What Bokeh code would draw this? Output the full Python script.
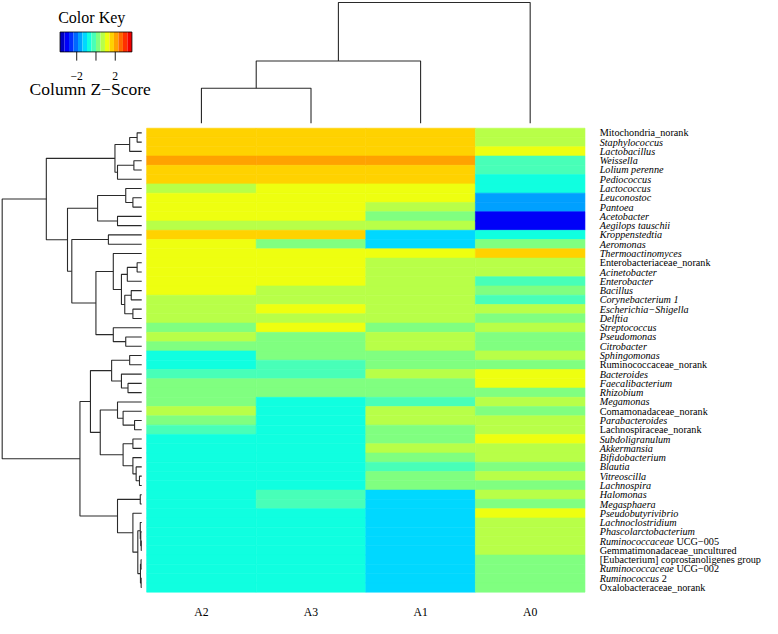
import numpy as np
from bokeh.plotting import figure
from bokeh.models import Range1d, ColumnDataSource, LinearColorMapper
from bokeh.transform import transform
from bokeh.core.properties import value
from bokeh.embed import file_html
from bokeh.resources import INLINE

# ---------------- data ----------------
samples = ["A2", "A3", "A1", "A0"]

row_labels = [
    "Mitochondria_norank", "Staphylococcus", "Lactobacillus", "Weissella", "Lolium perenne",
    "Pediococcus", "Lactococcus", "Leuconostoc", "Pantoea", "Acetobacter",
    "Aegilops tauschii", "Kroppenstedtia", "Aeromonas", "Thermoactinomyces", "Enterobacteriaceae_norank",
    "Acinetobacter", "Enterobacter", "Bacillus", "Corynebacterium 1", "Escherichia\u2212Shigella",
    "Delftia", "Streptococcus", "Pseudomonas", "Citrobacter", "Sphingomonas",
    "Ruminococcaceae_norank", "Bacteroides", "Faecalibacterium", "Rhizobium", "Megamonas",
    "Comamonadaceae_norank", "Parabacteroides", "Lachnospiraceae_norank", "Subdoligranulum", "Akkermansia",
    "Bifidobacterium", "Blautia", "Vitreoscilla", "Lachnospira", "Halomonas",
    "Megasphaera", "Pseudobutyrivibrio", "Lachnoclostridium", "Phascolarctobacterium", "Ruminococcaceae UCG\u2212005",
    "Gemmatimonadaceae_uncultured", "[Eubacterium] coprostanoligenes group", "Ruminococcaceae UCG\u2212002", "Ruminococcus 2", "Oxalobacteraceae_norank",
]
# r = roman, i = italic, m = italic genus + roman suffix
label_style = [
    "r", "i", "i", "i", "i", "i", "i", "i", "i", "i",
    "i", "i", "i", "i", "r", "i", "i", "i", "i", "i",
    "i", "i", "i", "i", "i", "r", "i", "i", "i", "i",
    "r", "i", "r", "i", "i", "i", "i", "i", "i", "i",
    "i", "i", "i", "i", "m", "r", "r", "m", "m", "r",
]

# column z-scores (rows in the order above)
z_A2 = [1.63, 1.63, 1.63, 2.10, 1.63, 1.63, 0.70, 1.17, 1.17, 1.17,
        0.70, 1.63, 1.17, 1.17, 1.17, 1.17, 1.17, 1.17, 0.70, 0.70,
        0.70, 0.23, 0.70, 0.23, -0.70, -0.70, -0.23, 0.23, 0.23, 0.23,
        0.70, 0.23, -0.23, -0.70, -0.70, -0.70, -0.70, -0.70, -0.70, -0.70,
        -0.70, -0.70, -0.70, -0.70, -0.70, -0.70, -0.70, -0.70, -0.70, -0.70]
z_A3 = [1.63, 1.63, 1.63, 2.10, 1.63, 1.63, 1.17, 1.17, 1.17, 1.17,
        0.70, 1.63, 0.23, 1.17, 1.17, 1.17, 1.17, 0.70, 0.70, 1.17,
        0.70, 1.17, 0.23, 0.23, 0.23, -0.23, -0.23, 0.23, 0.23, -0.70,
        -0.70, -0.70, -0.70, -0.70, -0.70, -0.70, -0.70, -0.70, -0.70, -0.23,
        -0.23, -0.70, -0.70, -0.70, -0.70, -0.70, -0.70, -0.70, -0.70, -0.70]
z_A1 = [1.63, 1.63, 1.63, 2.10, 1.63, 1.63, 1.17, 1.17, 0.70, 0.23,
        0.70, -1.16, -1.16, 1.17, 0.70, 0.70, 0.70, 0.70, 0.70, 0.70,
        0.70, 0.23, 0.70, 0.70, 0.23, 0.23, 0.70, 0.23, 0.23, -0.23,
        0.70, 0.70, 0.23, 0.23, 0.70, 0.23, -0.23, 0.23, 0.23, -1.16,
        -1.16, -1.16, -1.16, -1.16, -1.16, -1.16, -1.16, -1.16, -1.16, -1.16]
z_A0 = [0.70, 0.70, 1.17, -0.23, -0.23, -0.70, -0.70, -1.63, -1.63, -3.03,
        -3.03, -0.70, 0.23, 1.63, 0.70, 0.70, -0.23, 0.23, -0.23, 0.70,
        0.23, 0.70, 0.23, 0.23, 0.70, 0.23, 1.17, 1.17, 0.23, 0.70,
        0.23, 0.70, 0.70, 1.17, 0.70, 0.70, 0.23, 0.70, 0.23, 0.70,
        0.23, 1.17, 0.70, 0.70, 0.70, 0.70, 0.23, 0.23, 0.23, 0.23]

# column dendrogram: (child, child, height); leaves 0..3, merges 4..
col_merges = [(0, 1, 36.0), (4, 2, 64.0), (5, 3, 124.0)]

# row dendrogram: leaves 0..49, merges 50..
row_merges = [
    (0, 1, 4.7), (50, 2, 12.3), (3, 4, 8.0), (52, 5, 24.7), (51, 53, 27.3),
    (7, 8, 9.0), (6, 55, 16.3), (9, 10, 24.7), (56, 57, 45.0), (11, 12, 34.0),
    (14, 15, 4.7), (60, 16, 14.7), (17, 18, 10.7), (19, 20, 9.0), (62, 63, 17.3),
    (61, 64, 20.7), (13, 65, 29.0), (22, 23, 16.3), (21, 67, 29.0), (66, 68, 46.7),
    (59, 69, 71.3), (58, 70, 75.7), (54, 71, 97.3), (24, 25, 12.3), (27, 28, 14.0),
    (26, 74, 20.7), (73, 75, 30.7), (31, 32, 7.3), (30, 77, 19.0), (29, 78, 24.7),
    (33, 34, 9.0), (37, 38, 2.3), (36, 81, 5.7), (35, 82, 9.0), (80, 83, 19.0),
    (79, 84, 42.3), (76, 85, 52.3), (39, 40, 1.5), (44, 45, 0.5), (43, 88, 1.0),
    (42, 89, 1.5), (46, 47, 0.7), (48, 49, 0.6), (91, 92, 1.3), (90, 93, 4.0),
    (41, 94, 9.0), (87, 95, 24.7), (86, 96, 63.0), (72, 97, 142.3),
]

key_palette = ["#0000C0", "#0000F8", "#0030FF", "#0068FF", "#00A0FF", "#00D8FF",
               "#10FFE0", "#48FFB8", "#80FF80", "#B8FF48", "#EEFF10", "#FFD200",
               "#FFA200", "#FF6800", "#FF3000", "#F00000"]
key_low, key_high = -3.73, 3.73
key_ticks = [-2, 0, 2]
key_tick_labels = ["\u22122", "2"]
key_tick_label_pos = [-2, 2]

# ---------------- layout helpers ----------------
W, H = 762, 618
sx, sy = 759 / 774, 616 / 632


def fx(X):
    return (X - 2) * sx + 1


def fy(Y):
    return (Y - 1) * sy + 1


def xrange_from(d1, p1, d2, p2):
    k = (d2 - d1) / (p2 - p1)
    return Range1d(start=d1 - p1 * k, end=d1 + (W - p1) * k)


def yrange_from(d1, p1, d2, p2):
    k = (d2 - d1) / (p2 - p1)
    return Range1d(start=d1 + (H - p1) * k, end=d1 - p1 * k)


n_rows, n_cols = len(row_labels), len(samples)

p = figure(width=W, height=H, output_backend="svg", toolbar_location=None,
           x_axis_location=None, y_axis_location=None, min_border=0,
           x_range=xrange_from(0, fx(150), n_cols, fx(597)),
           y_range=yrange_from(0, fy(131), n_rows, fy(607)))
p.xgrid.visible = False
p.ygrid.visible = False
p.outline_line_color = None
p.background_fill_color = "white"
p.border_fill_color = "white"

row_root = row_merges[-1][2]
col_root = col_merges[-1][2]
p.extra_x_ranges = {
    "rowdend": xrange_from(0, fx(145), row_root, fx(2.7)),
    "keyx": xrange_from(key_low, fx(61.7), key_high, fx(135)),
}
p.extra_y_ranges = {
    "coldend": yrange_from(0, fy(126), col_root, fy(2)),
    "keyy": yrange_from(0, fy(52.7), 1, fy(32.3)),
}

mapper = LinearColorMapper(palette=key_palette, low=key_low, high=key_high)

# ---------------- heatmap ----------------
cols = [z_A2, z_A3, z_A1, z_A0]
hx, hy, hz = [], [], []
for c, zc in enumerate(cols):
    for r, z in enumerate(zc):
        hx.append(c + 0.5)
        hy.append(r + 0.5)
        hz.append(z)
src = ColumnDataSource(dict(x=hx, y=hy, z=hz))
p.rect(x="x", y="y", width=1, height=1, source=src,
       fill_color=transform("z", mapper), line_color=transform("z", mapper), line_width=0.6)


# ---------------- dendrograms ----------------
def tree_paths(merges, leaf_pos):
    pos = list(leaf_pos)
    hgt = [0.0] * len(leaf_pos)
    hs, ps = [], []
    for a, b, h in merges:
        hs.append([hgt[a], h, h, hgt[b]])
        ps.append([pos[a], pos[a], pos[b], pos[b]])
        pos.append((pos[a] + pos[b]) / 2)
        hgt.append(h)
    return hs, ps


rh, rp = tree_paths(row_merges, [i + 0.5 for i in range(n_rows)])
p.multi_line(xs=rh, ys=rp, x_range_name="rowdend", line_color="#2a2a2a", line_width=1.1)

ch, cp = tree_paths(col_merges, [i + 0.5 for i in range(n_cols)])
p.multi_line(xs=cp, ys=ch, y_range_name="coldend", line_color="#2a2a2a", line_width=1.1)

# ---------------- labels ----------------
font = value("Liberation Serif")
lab_size = 10.2
italic_w = {"R": 611, "u": 500, "m": 722, "i": 278, "n": 500, "o": 500, "c": 444,
            "a": 500, "e": 444, "s": 389, " ": 250}

lab_x0 = (612 - 597) * sx
groups = {"r": ([], [], [], "normal"), "i": ([], [], [], "italic")}
mix_i = ([], [], [])
mix_r = ([], [], [])
for r, (lab, st) in enumerate(zip(row_labels, label_style)):
    if st == "m":
        head, tail = lab.split(" ", 1)
        w = sum(italic_w.get(ch_, 500) for ch_ in head + " ") * lab_size / 1000
        mix_i[0].append(r + 0.5); mix_i[1].append(head); mix_i[2].append(lab_x0)
        mix_r[0].append(r + 0.5); mix_r[1].append(tail); mix_r[2].append(lab_x0 + w)
    else:
        g = groups[st]
        g[0].append(r + 0.5); g[1].append(lab); g[2].append(lab_x0)

for key_, g in groups.items():
    s = ColumnDataSource(dict(x=[n_cols] * len(g[0]), y=g[0], t=g[1], o=g[2]))
    p.text(x="x", y="y", text="t", x_offset="o", source=s, text_font=font,
           text_font_size=f"{lab_size}px", text_font_style=g[3],
           text_baseline="middle", text_align="left", text_color="black")
for g, style in ((mix_i, "italic"), (mix_r, "normal")):
    s = ColumnDataSource(dict(x=[n_cols] * len(g[0]), y=g[0], t=g[1], o=g[2]))
    p.text(x="x", y="y", text="t", x_offset="o", source=s, text_font=font,
           text_font_size=f"{lab_size}px", text_font_style=style,
           text_baseline="middle", text_align="left", text_color="black")

p.text(x=[c + 0.5 for c in range(n_cols)], y=[n_rows] * n_cols, text=samples,
       y_offset=(628 - 607) * sy, text_font=font, text_font_size="11.7px",
       text_align="center", text_baseline="middle", text_color="black")

# ---------------- color key ----------------
breaks = np.linspace(key_low, key_high, len(key_palette) + 1)
p.quad(left=breaks[:-1], right=breaks[1:], bottom=0, top=1, fill_color=key_palette,
       line_color=None, x_range_name="keyx", y_range_name="keyy")
p.quad(left=[key_low], right=[key_high], bottom=[0], top=[1], fill_color=None,
       line_color="black", line_width=0.8, x_range_name="keyx", y_range_name="keyy")
p.segment(x0=key_ticks, y0=[0] * 3, x1=key_ticks, y1=[-0.44] * 3, line_color="black",
          line_width=0.9, x_range_name="keyx", y_range_name="keyy")
p.text(x=key_tick_label_pos, y=[-1.22] * 2, text=key_tick_labels, text_font=font,
       text_font_size="11.7px", text_align="center", text_baseline="middle",
       x_range_name="keyx", y_range_name="keyy", text_color="black")
p.text(x=[-0.44], y=[1.725], text=["Color Key"], text_font=font, text_font_size="16px",
       text_align="center", text_baseline="middle", x_range_name="keyx",
       y_range_name="keyy", text_color="black")
p.text(x=[-0.60], y=[-1.88], text=["Column Z\u2212Score"], text_font=font,
       text_font_size="17.5px", text_align="center", text_baseline="middle",
       x_range_name="keyx", y_range_name="keyy", text_color="black")

open("out.html", "w").write(file_html(p, INLINE))
